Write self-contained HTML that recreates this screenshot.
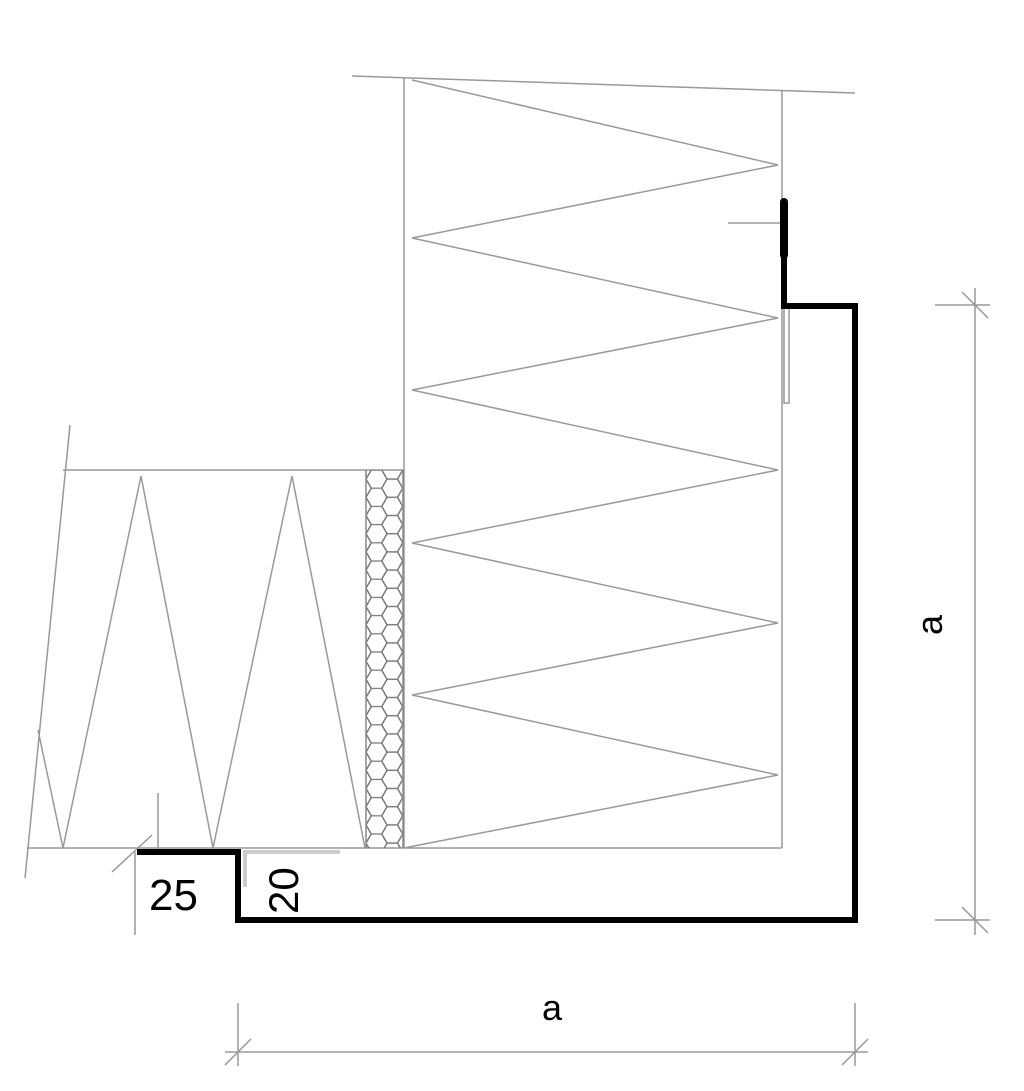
<!DOCTYPE html>
<html><head><style>html,body{margin:0;padding:0;background:#fff}svg{display:block}</style></head>
<body>
<svg width="1024" height="1091" viewBox="0 0 1024 1091" xmlns="http://www.w3.org/2000/svg">
<defs>
<g id="h"><polygon points="-10.5,0 -5.25,-9.1 5.25,-9.1 10.5,0 5.25,9.1 -5.25,9.1" fill="none" stroke="#777" stroke-width="1.3"/></g>
<pattern id="hex" x="366" y="470" width="31.5" height="18.2" patternUnits="userSpaceOnUse">
<use href="#h" x="10.5" y="9.1"/>
<use href="#h" x="26.25" y="0"/>
<use href="#h" x="26.25" y="18.2"/>
<use href="#h" x="-5.25" y="0"/>
<use href="#h" x="-5.25" y="18.2"/>
<use href="#h" x="42" y="9.1"/>
</pattern>
</defs>
<g stroke="#999" stroke-width="1.5" fill="none">
<line x1="352" y1="76" x2="855" y2="93"/>
<line x1="404" y1="78" x2="404" y2="848"/>
<line x1="782" y1="90" x2="782" y2="848"/>
<line x1="27" y1="848" x2="782" y2="848"/>
<polyline points="412,80 778,165 412,238 778,318 412,390 778,470 412,543 778,623 412,695 778,775 404,848"/>
<line x1="63" y1="470" x2="404" y2="470"/>
<line x1="70" y1="425" x2="25" y2="878"/>
<polyline points="38,730 63,848 141,476 213,848 292,476 365,848"/>
<rect x="784" y="306" width="5" height="97"/>
<line x1="728" y1="223" x2="784" y2="223"/>
<polyline points="340,852 245,852 245,887" stroke-width="3"/>
<polyline points="340,852 245,852 245,887" stroke="#fff" stroke-width="1"/>
<line x1="158" y1="793" x2="158" y2="855"/>
<line x1="135" y1="852" x2="135" y2="935"/>
<line x1="112" y1="872" x2="152" y2="835"/>
<line x1="975" y1="288" x2="975" y2="935"/>
<line x1="935" y1="305" x2="990" y2="305"/>
<line x1="935" y1="920" x2="990" y2="920"/>
<line x1="962" y1="292" x2="988" y2="318"/>
<line x1="962" y1="907" x2="988" y2="933"/>
<line x1="225" y1="1052" x2="868" y2="1052"/>
<line x1="238" y1="1003" x2="238" y2="1066"/>
<line x1="855" y1="1003" x2="855" y2="1066"/>
<line x1="225" y1="1065" x2="251" y2="1039"/>
<line x1="842" y1="1065" x2="868" y2="1039"/>
</g>
<rect x="366" y="470" width="37" height="378" fill="url(#hex)"/>
<line x1="366" y1="470" x2="366" y2="848" stroke="#888" stroke-width="1.5"/>
<line x1="403" y1="470" x2="403" y2="848" stroke="#888" stroke-width="1.5"/>
<polyline points="784,200 784,306 855,306 855,920 238,920 238,852 137,852" fill="none" stroke="#000" stroke-width="6" stroke-linejoin="miter"/>
<line x1="784" y1="202" x2="784" y2="255" stroke="#000" stroke-width="8" stroke-linecap="round"/>
<g font-family="'Liberation Sans', sans-serif" fill="#000">
<text x="149" y="910" font-size="44">25</text>
<text transform="translate(298,914) rotate(-90)" font-size="42">20</text>
<text x="552" y="1020" font-size="36" text-anchor="middle">a</text>
<text transform="translate(942,625) rotate(-90)" font-size="36" text-anchor="middle">a</text>
</g>
</svg>
</body></html>
